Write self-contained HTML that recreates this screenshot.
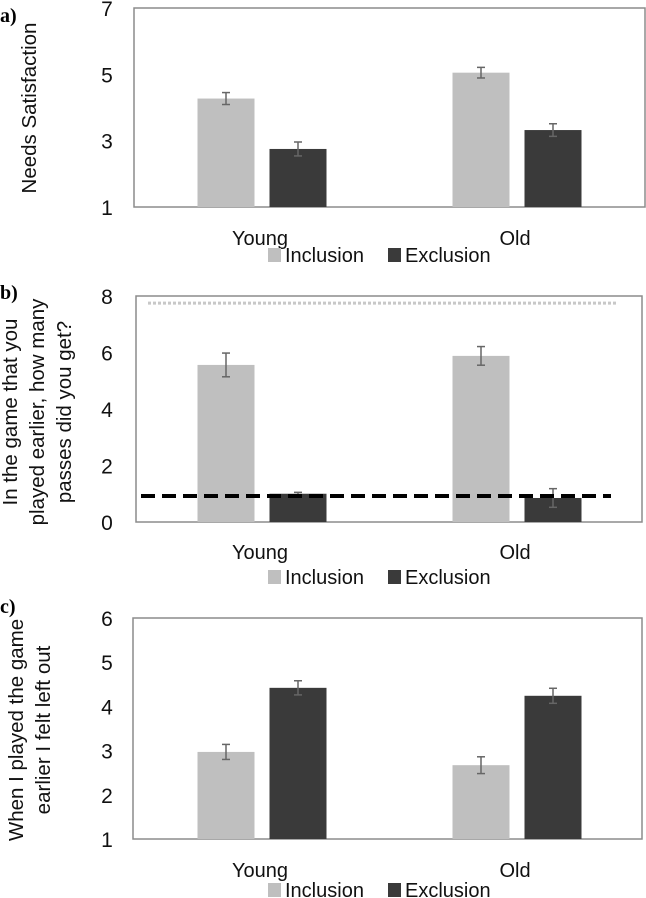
<!DOCTYPE html>
<html><head><meta charset="utf-8"><style>
body{margin:0;background:#fff}
svg{display:block;font-family:"Liberation Sans",sans-serif}
</style></head><body>
<svg id="chart" width="646" height="898" viewBox="0 0 646 898" xmlns="http://www.w3.org/2000/svg">
<text x="0" y="22" font-family="Liberation Serif" font-weight="bold" font-size="20">a)</text>
<text x="0" y="299" font-family="Liberation Serif" font-weight="bold" font-size="20">b)</text>
<text x="0" y="613" font-family="Liberation Serif" font-weight="bold" font-size="20">c)</text>
<g id="panels"></g>
</svg>
<script>
const categories = ["Young", "Old"];
const seriesNames = ["Inclusion", "Exclusion"];
const aInclusion = [4.27, 5.05];
const aExclusion = [2.75, 3.32];
const aInclErr = [0.18, 0.16];
const aExclErr = [0.21, 0.19];
const aTicks = [1, 3, 5, 7];
const bInclusion = [5.56, 5.88];
const bExclusion = [1.0, 0.85];
const bInclErr = [0.42, 0.33];
const bExclErr = [0.05, 0.33];
const bTicks = [0, 2, 4, 6, 8];
const bRefInclusion = 7.75;
const bRefExclusion = 0.92;
const cInclusion = [2.97, 2.67];
const cExclusion = [4.42, 4.24];
const cInclErr = [0.17, 0.19];
const cExclErr = [0.16, 0.17];
const cTicks = [1, 2, 3, 4, 5, 6];

const NS = "http://www.w3.org/2000/svg";
const root = document.getElementById('panels');
function mk(tag, attrs, parent, text) {
  const e = document.createElementNS(NS, tag);
  for (const k in attrs) e.setAttribute(k, attrs[k]);
  if (text !== undefined) e.textContent = text;
  (parent || root).appendChild(e);
  return e;
}
const colors = ["#bfbfbf", "#3a3a3a"];

function panel(p) {
  const g = mk('g', {});
  
  
  const y = v => p.bottom - (v - p.min) / (p.max - p.min) * (p.bottom - p.top);
  const box = mk('rect', {x: p.left, y: p.top, width: p.right - p.left, height: p.bottom - p.top, fill: 'none', stroke: '#8c8c8c', 'stroke-width': 1.5}, g);
  
  
  p.ticks.forEach(t => {
    const tx = mk('text', {x: 107, y: y(t) + 8, 'text-anchor': 'middle', 'font-size': 21, fill: '#111'}, g, String(t));
    
    
  });
  const groupCenters = [262, 517];
  const bw = 57, offs = [-36, 36];
  const series = [[p.incl, p.inclErr], [p.excl, p.exclErr]];
  categories.forEach((c, i) => {
    series.forEach((s, j) => {
      const cx = groupCenters[i] + offs[j];
      const v = s[0][i], e = s[1][i];
      const r = mk('rect', {x: cx - bw / 2, y: y(v), width: bw, height: p.bottom - y(v), fill: colors[j]}, g);
      
      
      const eg = mk('g', {stroke: '#666', 'stroke-width': 1.5}, g);
      
      
      mk('line', {x1: cx, x2: cx, y1: y(v + e), y2: y(v - e)}, eg);
      mk('line', {x1: cx - 4, x2: cx + 4, y1: y(v + e), y2: y(v + e)}, eg);
      mk('line', {x1: cx - 4, x2: cx + 4, y1: y(v - e), y2: y(v - e)}, eg);
    });
    const cl = mk('text', {x: groupCenters[i] - 2, y: p.catY, 'text-anchor': 'middle', 'font-size': 20, fill: '#111'}, g, c);
    
    
  });
  if (p.refs) {
    const l1 = mk('line', {x1: p.left + 12, x2: 618, y1: y(bRefInclusion), y2: y(bRefInclusion), stroke: '#c8c8c8', 'stroke-width': 3, 'stroke-dasharray': '3 2'}, g);
    
    
    const l2 = mk('line', {x1: 141, x2: 611, y1: y(bRefExclusion), y2: y(bRefExclusion), stroke: '#000', 'stroke-width': 4, 'stroke-dasharray': '14 7'}, g);
    
    
  }
  const lg = mk('g', {}, g);
  
  
  const lx = [268, 388];
  seriesNames.forEach((n, j) => {
    const sw = mk('rect', {x: lx[j], y: p.legY - 13, width: 13, height: 14, fill: colors[j]}, lg);
    
    
    const t = mk('text', {x: lx[j] + 17, y: p.legY + 1, 'font-size': 20, fill: '#111'}, lg, n);
    
    
  });
  const tt = mk('text', {transform: 'rotate(-90)', 'text-anchor': 'middle', 'font-size': 20.5, fill: '#111'}, g);
  
  
  p.title.forEach((line, k) => {
    mk('tspan', {x: -p.titleY, y: p.titleX + k * 27}, tt, line);
  });
}

panel({name: 'panel-a', left: 134, right: 645, top: 8, bottom: 207, min: 1, max: 7, ticks: aTicks,
  incl: aInclusion, excl: aExclusion, inclErr: aInclErr, exclErr: aExclErr, catY: 245, legY: 261,
  title: ["Needs Satisfaction"], titleX: 36, titleY: 108});
panel({name: 'panel-b', left: 136, right: 642, top: 296, bottom: 522, min: 0, max: 8, ticks: bTicks,
  incl: bInclusion, excl: bExclusion, inclErr: bInclErr, exclErr: bExclErr, catY: 559, legY: 583, refs: true,
  title: ["In the game that you", "played earlier, how many", "passes did you get?"], titleX: 17, titleY: 412});
panel({name: 'panel-c', left: 133, right: 642, top: 618, bottom: 839, min: 1, max: 6, ticks: cTicks,
  incl: cInclusion, excl: cExclusion, inclErr: cInclErr, exclErr: cExclErr, catY: 877, legY: 896,
  title: ["When I played the game", "earlier I felt left out"], titleX: 23, titleY: 730});
</script>
</body></html>
